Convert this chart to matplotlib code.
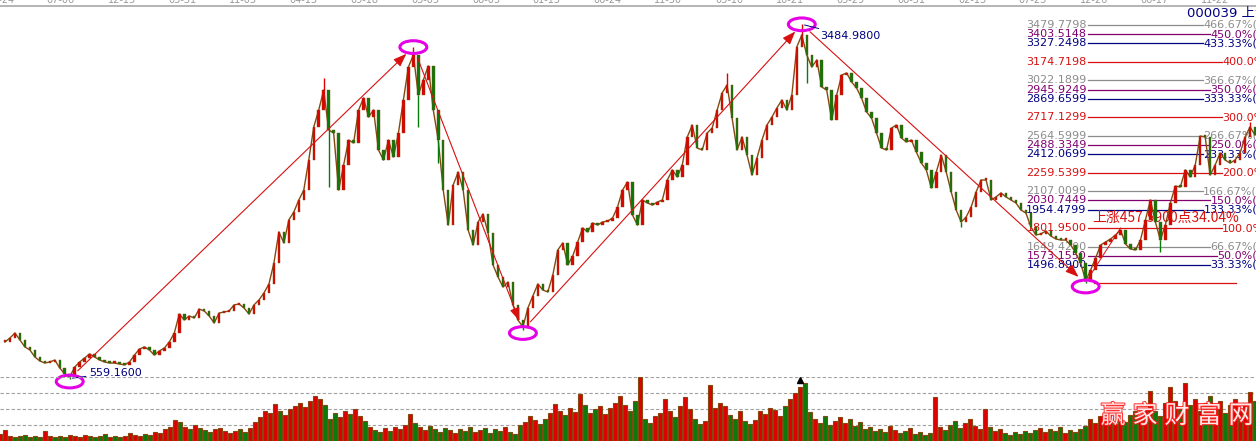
"""Index chart with swing pivots, percentage levels and volume."""

import matplotlib

matplotlib.use("Agg")

import matplotlib.patheffects as pe
import matplotlib.pyplot as plt
import numpy as np
from matplotlib.patches import Ellipse


# daily closes sampled along the chart (index value)
closes = [
    861, 894, 935, 877, 820, 795, 737, 704, 687, 696,
    712, 646, 597, 572, 654, 696, 729, 762, 737, 712,
    696, 687, 687, 679, 671, 696, 753, 803, 820, 795,
    753, 787, 811, 861, 935, 1092, 1043, 1076, 1059, 1133,
    1117, 1076, 1018, 1100, 1109, 1117, 1167, 1175, 1142, 1092,
    1167, 1208, 1266, 1340, 1513, 1770, 1679, 1869, 1935, 2034,
    2116, 2364, 2637, 2777, 2942, 2612, 2587, 2116, 2323, 2529,
    2505, 2777, 2876, 2719, 2777, 2447, 2364, 2529, 2389, 2587,
    2860, 3132, 3231, 2901, 3025, 3141, 2777, 2529, 2116, 1827,
    2158, 2265, 2116, 1786, 1662, 1852, 1918, 1761, 1497, 1398,
    1315, 1356, 1167, 1043, 985, 1142, 1241, 1340, 1290, 1274,
    1414, 1621, 1679, 1497, 1571, 1687, 1803, 1770, 1844, 1827,
    1852, 1860, 1885, 1976, 2116, 2182, 1910, 1827, 2034, 2009,
    1992, 2017, 2034, 2199, 2282, 2224, 2323, 2554, 2653, 2463,
    2447, 2587, 2628, 2777, 2918, 2984, 2711, 2447, 2554, 2405,
    2240, 2381, 2529, 2653, 2719, 2794, 2860, 2777, 2901, 3298,
    3397, 3231, 3132, 3190, 2967, 2942, 2695, 2901, 3066, 3083,
    3008, 2959, 2876, 2761, 2711, 2587, 2463, 2447, 2628, 2653,
    2546, 2513, 2529, 2430, 2339, 2282, 2133, 2265, 2405, 2265,
    2100, 1951, 1852, 1893, 1976, 2100, 2199, 2199, 2034, 2059,
    2092, 2059, 2034, 2009, 1951, 1926, 1811, 1745, 1753, 1778,
    1736, 1712, 1703, 1703, 1662, 1596, 1513, 1365, 1456, 1555,
    1662, 1687, 1712, 1745, 1786, 1670, 1629, 1621, 1703, 1869,
    2034, 1852, 1703, 1827, 2009, 2149, 2141, 2282, 2224, 2323,
    2562, 2554, 2240, 2323, 2422, 2364, 2339, 2364, 2422, 2554,
    2637, 2571,
]

volumes = [
    7, 11, 5, 4, 5, 6, 4, 5, 4, 10,
    5, 4, 5, 4, 6, 5, 4, 6, 5, 4,
    5, 7, 4, 5, 4, 5, 8, 6, 5, 7,
    6, 9, 8, 12, 14, 21, 19, 14, 12, 16,
    13, 11, 9, 12, 13, 10, 8, 10, 12, 9,
    13, 19, 24, 30, 28, 37, 30, 26, 32, 35,
    38, 34, 40, 45, 42, 36, 22, 28, 24, 30,
    27, 32, 25, 20, 14, 11, 9, 13, 10, 14,
    12, 16, 27, 18, 14, 11, 15, 12, 9, 13,
    11, 8, 12, 10, 14, 9, 11, 13, 8, 12,
    10, 14, 9, 7, 16, 19, 25, 21, 17, 22,
    28, 37, 30, 26, 33, 29, 47, 36, 28, 32,
    35, 27, 33, 38, 45, 36, 30, 40, 64, 22,
    18, 25, 28, 42, 30, 24, 35, 44, 32, 22,
    17, 20, 56, 33, 38, 35, 26, 22, 30, 20,
    17, 21, 30, 27, 33, 31, 25, 35, 42, 48,
    54, 58, 29, 22, 18, 25, 16, 20, 24, 18,
    22, 15, 19, 12, 14, 10, 12, 9, 15, 11,
    8, 10, 13, 7, 9, 6, 8, 44, 14, 11,
    16, 20, 13, 18, 22, 15, 12, 32, 14, 10,
    12, 8, 6, 9, 7, 10, 8, 11, 13, 9,
    12, 10, 14, 8, 11, 9, 12, 15, 22, 18,
    25, 20, 28, 17, 22, 19, 26, 30, 24, 32,
    50, 30, 25, 38, 54, 40, 33, 58, 36, 42,
    30, 38, 45, 34, 40, 28, 36, 42, 30, 38,
    49, 40,
]

# long shadows that stick out from the close path
wick_idx = [13, 64, 65, 82, 83, 87, 104, 145, 160, 161, 192, 217, 232, 250]
wick_val = [559.16, 3041, 2141, 3297, 2637, 2339, 960, 3083, 3484.98, 3000, 1811, 1344.36, 1604, 2680]

# swing pivots: low, high, low, high, low
pivot_idx = [13, 82, 104, 160, 217]
pivot_val = [559.16, 3297, 960, 3484.98, 1344.36]

date_labels = [
    "01-24", "07-06", "12-13", "05-31", "11-03", "04-13", "09-18", "03-03",
    "08-05", "01-13", "06-24", "11-30", "05-10", "10-21", "03-29", "08-31",
    "02-13", "07-23", "12-26", "06-17", "11-22",
]

level_values = [
    3479.7798, 3403.5148, 3327.2498, 3174.7198, 3022.1899, 2945.9249, 2869.6599,
    2717.1299, 2564.5999, 2488.3349, 2412.0699, 2259.5399, 2107.0099, 2030.7449,
    1954.4799, 1801.9500, 1649.4200, 1573.1550, 1496.8900,
]
level_pcts = [
    "466.67", "450.0", "433.33", "400.0", "366.67", "350.0", "333.33",
    "300.0", "266.67", "250.0", "233.33", "200.0", "166.67", "150.0",
    "133.33", "100.0", "66.67", "50.0", "33.33",
]

UP = "#e00000"
DOWN = "#0a7a0a"
EDGE = "#844810"
RED = "#d81010"
GRAY = "#8c8c8c"
PURPLE = "#800070"
NAVY = "#000080"
MAGENTA = "#e600e6"

W, H = 1256, 442


def level_color(pct):
    if pct.endswith(".67"):
        return GRAY
    if pct.endswith(".33"):
        return NAVY
    if pct.endswith("50.0"):
        return PURPLE
    return RED


closes = np.array(closes, dtype=float)
volumes = np.array(volumes, dtype=float)
idx = np.arange(len(closes))
opens = np.r_[closes[0], closes[:-1]]
up = closes >= opens
colors = np.where(up, UP, DOWN)

fig = plt.figure(figsize=(W / 100, H / 100), dpi=100)
ax = fig.add_axes([0, 1 / H, 1, 435 / H])
axv = fig.add_axes([0, 1 / H, 1, 64 / H])
axv.patch.set_alpha(0)

# candles: body from previous close to close, thin and packed
ax.plot(idx, closes, color=EDGE, linewidth=1.0, zorder=3)
bottoms = np.minimum(opens, closes)
heights = np.maximum(np.abs(closes - opens), 14)
ax.bar(idx, heights, bottom=bottoms, width=0.5, color=colors,
       edgecolor=EDGE, linewidth=0.3, zorder=3)
ax.vlines(wick_idx, closes[wick_idx], wick_val,
          colors=[colors[i] for i in wick_idx], linewidth=1.0, zorder=3)

ax.set_xlim(0, W / 5)
ax.set_ylim(43.1, 3636.2)
ax.set_yticks([])
ax.xaxis.tick_top()
ax.set_xticks([(-5 + 61 * k) / 5 for k in range(len(date_labels))])
ax.set_xticklabels(date_labels)
ax.tick_params(axis="x", length=0, pad=1, labelsize=7, labelcolor="#9a9a9a")
for side in ["left", "right", "bottom"]:
    ax.spines[side].set_visible(False)
ax.spines["top"].set_color("#a8a8a8")
ax.spines["top"].set_linewidth(1.2)

# volume panel
axv.bar(idx, volumes, width=0.95, color=colors, edgecolor=EDGE, linewidth=0.8)
axv.set_xlim(0, W / 5)
axv.set_ylim(0, 64)
for level in [16, 32, 48, 64]:
    axv.axhline(level, color="#a0a0a0", linestyle=(0, (3, 2)), linewidth=0.8, zorder=0)
axv.plot(pivot_idx[3], 61.5, marker="^", color="black", markersize=4, clip_on=False)
axv.axis("off")

# pivots: ellipses and arrows
for k, (px, pv) in enumerate(zip(pivot_idx, pivot_val)):
    is_low = k % 2 == 0
    center = pv - 25 if is_low else pv
    ax.add_patch(Ellipse((px, center), 5.4, 105, fill=False,
                         edgecolor=MAGENTA, linewidth=2.2, zorder=6, clip_on=False))
for k in range(len(pivot_idx) - 1):
    ax.annotate(
        "",
        xy=(pivot_idx[k + 1], pivot_val[k + 1]),
        xytext=(pivot_idx[k], pivot_val[k]),
        arrowprops=dict(arrowstyle="-|>,head_length=0.8,head_width=0.3",
                        color=RED, linewidth=0.8, shrinkA=8, shrinkB=7),
        zorder=5,
    )

text_font = dict(family="DejaVu Sans", fontsize=8)
ax.annotate("559.1600", xy=(pivot_idx[0], pivot_val[0]), xytext=(19, 6),
            textcoords="offset pixels", color=NAVY, va="center",
            arrowprops=dict(arrowstyle="-", color=NAVY, lw=0.7, shrinkA=0, shrinkB=2),
            zorder=6, **text_font)
ax.annotate("3484.9800", xy=(pivot_idx[3], pivot_val[3]), xytext=(18, -12),
            textcoords="offset pixels", color=NAVY, va="center",
            arrowprops=dict(arrowstyle="-", color=NAVY, lw=0.7, shrinkA=0, shrinkB=2),
            zorder=6, **text_font)

# percentage levels measured from the last low
fig.canvas.draw()
renderer = fig.canvas.get_renderer()
inv = ax.transData.inverted()
left_x = 1086 / 5
for value, pct in zip(level_values, level_pcts):
    color = level_color(pct)
    ax.text(left_x, value, f"{value:.4f}", ha="right", va="center",
            color=color, zorder=2, **text_font)
    anchor = 1269 if color == RED else 1257
    label = ax.text(anchor / 5, value, f"{pct}%(", ha="right", va="center",
                    color=color, zorder=2, clip_on=False, **text_font)
    x_end = inv.transform((label.get_window_extent(renderer).x0, 0))[0]
    ax.plot([left_x + 0.2, x_end - 0.1], [value, value], color=color,
            linewidth=0.9, zorder=1)

base = pivot_val[4]
ax.plot([218.6, 247.2], [base, base], color=RED, linewidth=0.9, zorder=1)
rise = level_values[level_pcts.index("100.0")] - base
ax.plot([pivot_idx[4] + 0.5, 224], [base + 40, base + rise], color=RED,
        linewidth=0.7, zorder=4)
ax.text(1092 / 5, 1882, f"上涨{rise:.4f}点{rise / base * 100:.2f}%", color=RED,
        ha="left", va="center", fontsize=10, zorder=2,
        family=["Noto Sans CJK SC", "DejaVu Sans"])

fig.text(1187 / W, 1 - 13 / H, "000039 上证指数", color=NAVY, fontsize=9.5,
         ha="left", va="center", family=["DejaVu Sans", "Noto Sans CJK SC"])

# watermark
for k, ch in enumerate("赢家财富网"):
    fig.text((1113 + 32 * k) / W, 1 - 416 / H, ch, color="white", fontsize=18,
             ha="center", va="center", family="Noto Sans CJK SC", alpha=0.9,
             path_effects=[pe.withStroke(linewidth=1.4, foreground="#ff1a1a")])

fig.savefig("out.png", dpi=100)
